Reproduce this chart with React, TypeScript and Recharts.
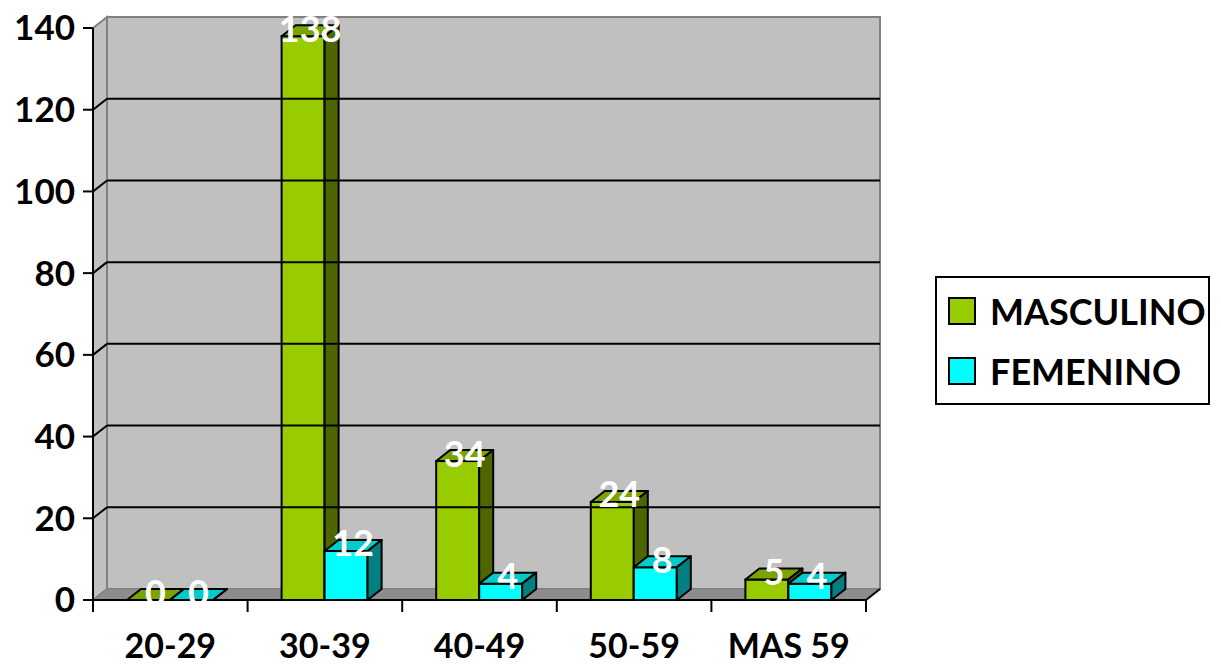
import React from 'react';
import { BarChart, Bar, XAxis, YAxis, ReferenceArea, ReferenceLine, LabelList, Legend } from 'recharts';

const categories = ['20-29', '30-39', '40-49', '50-59', 'MAS 59'];
const seriesNames = ['MASCULINO', 'FEMENINO'];
const masculino = [0, 138, 34, 24, 5];
const femenino = [0, 12, 4, 8, 4];
const yTicks = [0, 20, 40, 60, 80, 100, 120, 140];
const gridValues = [20, 40, 60, 80, 100, 120];

const data = categories.map((grupo, i) => ({
  grupo,
  masculino: masculino[i],
  femenino: femenino[i],
}));

// 3d depth offset
const DX = 14;
const DY = 11;
const FONT = 'Lato, "Open Sans", sans-serif';

const Walls = (p: any) => {
  const { x, y, width, height } = p;
  const b = y + height;
  const r = x + width;
  return (
    <g>
      <polygon
        points={`${x},${b} ${x},${y} ${x + DX},${y - DY} ${x + DX},${b - DY}`}
        fill="#C0C0C0"
        stroke="#808080"
        strokeWidth={2}
      />
      <rect x={x + DX} y={y - DY} width={width} height={height} fill="#C0C0C0" stroke="#808080" strokeWidth={2} />
      <polygon
        points={`${x},${b} ${r},${b} ${r + DX},${b - DY} ${x + DX},${b - DY}`}
        fill="#8C8C8C"
        stroke="#808080"
        strokeWidth={1}
      />
      <line x1={r} y1={b} x2={r + DX} y2={b - DY} stroke="#000" strokeWidth={2} />
    </g>
  );
};

const gridLine = (p: any) => {
  const x1 = Math.min(p.x1, p.x2);
  const x2 = Math.max(p.x1, p.x2);
  const y = p.y1;
  return (
    <g>
      <line x1={x1} y1={y} x2={x1 + DX} y2={y - DY} stroke="#000" strokeWidth={2} />
      <line x1={x1 + DX} y1={y - DY} x2={x2 + DX} y2={y - DY} stroke="#000" strokeWidth={2} />
    </g>
  );
};

// short tick mark below the floor at a category boundary
const edgeTick = (p: any) => {
  const yb = Math.max(p.y1, p.y2);
  return <line x1={p.x1} y1={yb} x2={p.x1} y2={yb + 12} stroke="#000" strokeWidth={2} />;
};

const box3d = (front: string, side: string, top: string) => (p: any) => {
  const { x, y, width: w, height: h } = p;
  return (
    <g>
      <rect x={x} y={y} width={w} height={h} fill={front} stroke="#000" strokeWidth={2} />
      <polygon
        points={`${x},${y} ${x + DX},${y - DY} ${x + w + DX},${y - DY} ${x + w},${y}`}
        fill={top}
        stroke="#000"
        strokeWidth={2}
        strokeLinejoin="round"
      />
      <polygon
        points={`${x + w},${y} ${x + w + DX},${y - DY} ${x + w + DX},${y + h - DY} ${x + w},${y + h}`}
        fill={side}
        stroke="#000"
        strokeWidth={2}
        strokeLinejoin="round"
      />
    </g>
  );
};

const topLabel = (p: any) => {
  const { x, y, width, value } = p;
  return (
    <text
      x={x + width / 2 + DX / 2}
      y={y - DY / 2 - 3}
      textAnchor="middle"
      dominantBaseline="central"
      fill="#fff"
      fontSize={36}
      fontWeight={700}
      fontFamily={FONT}
    >
      {value}
    </text>
  );
};

const CatTick = (p: any) => (
  <text
    x={p.x}
    y={p.y + 44}
    textAnchor="middle"
    dominantBaseline="central"
    fill="#000"
    fontSize={34}
    fontWeight={700}
    fontFamily={FONT}
  >
    {p.payload.value}
  </text>
);

const renderLegend = (props: any) => {
  const items = [...(props.payload || [])].sort(
    (a: any, b: any) => seriesNames.indexOf(a.value) - seriesNames.indexOf(b.value)
  );
  return (
    <div
      style={{
        border: '2px solid #000',
        background: '#fff',
        width: 271,
        height: 122,
        paddingTop: 3,
        boxSizing: 'content-box',
        fontFamily: FONT,
      }}
    >
      {items.map((e: any) => (
        <div key={e.value} style={{ display: 'flex', alignItems: 'center', height: 60 }}>
          <span
            style={{
              display: 'inline-block',
              width: 24,
              height: 24,
              marginLeft: 11,
              marginRight: 14,
              background: e.color,
              border: '2px solid #000',
            }}
          />
          <span style={{ fontSize: 36, fontWeight: 700, color: '#000' }}>{e.value}</span>
        </div>
      ))}
    </div>
  );
};

export default function App() {
  return (
    <div style={{ fontFamily: FONT, position: 'absolute', left: 0, top: 0 }}>
      <BarChart
        width={1221}
        height={666}
        data={data}
        margin={{ top: 28, right: 355, bottom: 0, left: 0 }}
        barSize={43}
        barGap={0}
      >
        <ReferenceArea y1={0} y2={140} ifOverflow="visible" shape={Walls} />
        {gridValues.map((v) => (
          <ReferenceLine key={v} y={v} ifOverflow="visible" shape={gridLine} />
        ))}
        {categories.map((c) => (
          <ReferenceLine key={'s' + c} x={c} position="start" ifOverflow="visible" shape={edgeTick} />
        ))}
        <ReferenceLine
          x={categories[categories.length - 1]}
          position="end"
          ifOverflow="visible"
          shape={edgeTick}
        />
        <XAxis
          dataKey="grupo"
          height={66}
          axisLine={{ stroke: '#000', strokeWidth: 2 }}
          tickLine={false}
          tickSize={0}
          tickMargin={0}
          interval={0}
          tick={CatTick}
        />
        <YAxis
          domain={[0, 140]}
          ticks={yTicks}
          interval={0}
          width={93}
          tickSize={10}
          tickMargin={8}
          axisLine={{ stroke: '#000', strokeWidth: 2 }}
          tickLine={{ stroke: '#000', strokeWidth: 2 }}
          tick={{ fill: '#000', fontSize: 35, fontWeight: 700, fontFamily: FONT }}
        />
        <Legend
          layout="vertical"
          align="center"
          verticalAlign="middle"
          wrapperStyle={{ left: 935, top: 276, width: 'auto' }}
          content={renderLegend}
        />
        <Bar
          dataKey="masculino"
          name="MASCULINO"
          fill="#99CC00"
          shape={box3d('#99CC00', '#4D6600', '#7AA300')}
          isAnimationActive={false}
        >
          <LabelList dataKey="masculino" content={topLabel} />
        </Bar>
        <Bar
          dataKey="femenino"
          name="FEMENINO"
          fill="#00FFFF"
          shape={box3d('#00FFFF', '#008080', '#00CCCC')}
          isAnimationActive={false}
        >
          <LabelList dataKey="femenino" content={topLabel} />
        </Bar>
      </BarChart>
    </div>
  );
}
